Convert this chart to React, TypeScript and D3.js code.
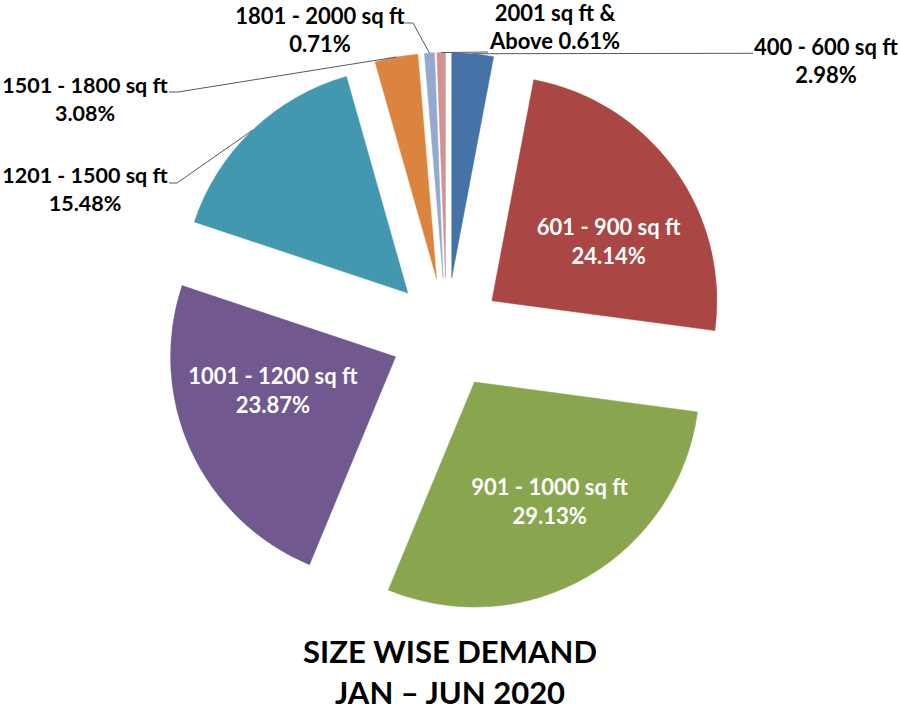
import React from "react";
import * as d3 from "d3";

// ---- data ----
const categories = [
  "400 - 600 sq ft",
  "601 - 900 sq ft",
  "901 - 1000 sq ft",
  "1001 - 1200 sq ft",
  "1201 - 1500 sq ft",
  "1501 - 1800 sq ft",
  "1801 - 2000 sq ft",
  "2001 sq ft & Above",
];
const shares = [2.98, 24.14, 29.13, 23.87, 15.48, 3.08, 0.71, 0.61];
const sliceColors = [
  "#4572A7",
  "#AA4643",
  "#89A54E",
  "#71588F",
  "#4198AF",
  "#DB843D",
  "#93A9CF",
  "#D19392",
];
const titleLines = ["SIZE WISE DEMAND", "JAN \u2013 JUN 2020"];

// label text lines (category, percent)
const labelText = (i: number) => {
  const pct = shares[i].toFixed(2) + "%";
  if (i === 7) return ["2001 sq ft &", "Above " + pct];
  return [categories[i], pct];
};

// ---- layout ----
const W = 900;
const H = 720;
const CX = 446.5;
const CY = 333.5;
const R = 225;
const EXPLODE = 56;
const FONT = "Lato, 'Open Sans', sans-serif";

// inside labels: index -> nudge from base position
const insideLabels: { i: number; dx: number; dy: number }[] = [
  { i: 1, dx: 11, dy: 18 },
  { i: 2, dx: 10, dy: 7 },
  { i: 3, dx: -4, dy: -20 },
];

// outside labels: text centre / first baseline and leader path bends
const outsideLabels: {
  i: number;
  tx: number;
  ty: number;
  bends: [number, number][];
}[] = [
  { i: 0, tx: 826, ty: 55, bends: [[753, 53.3]] },
  { i: 7, tx: 555, ty: 21, bends: [[488, 52]] },
  { i: 6, tx: 320, ty: 24, bends: [[413, 23], [405, 23]] },
  { i: 5, tx: 85, ty: 93, bends: [[178, 92], [169, 92]] },
  { i: 4, tx: 85, ty: 183, bends: [[177, 183], [169, 183]] },
];

const dir = (a: number): [number, number] => [Math.sin(a), -Math.cos(a)];

export default function App() {
  const pie = d3
    .pie<number>()
    .sort(null)
    .value((d) => d)
    .startAngle(0)
    .endAngle(2 * Math.PI);
  const arcs = pie(shares);
  const arcGen = d3.arc<d3.PieArcDatum<number>>().innerRadius(0).outerRadius(R);

  const apex = (k: number): [number, number] => {
    const a = arcs[k];
    const m = (a.startAngle + a.endAngle) / 2;
    const [ux, uy] = dir(m);
    return [CX + EXPLODE * ux, CY + EXPLODE * uy];
  };
  const outerMid = (k: number): [number, number] => {
    const a = arcs[k];
    const m = (a.startAngle + a.endAngle) / 2;
    const [ux, uy] = dir(m);
    const [px, py] = apex(k);
    return [px + R * ux, py + R * uy];
  };

  const line = d3.line();

  return (
    <svg
      width={W}
      height={H}
      style={{ position: "absolute", left: 0, top: 0, background: "#fff" }}
      fontFamily={FONT}
    >
      <rect width={W} height={H} fill="#fff" />
      {arcs.map((a, k) => {
        const [px, py] = apex(k);
        return (
          <path
            key={k}
            d={arcGen(a) || ""}
            transform={`translate(${px},${py})`}
            fill={sliceColors[k]}
            stroke={sliceColors[k]}
            strokeWidth={0.5}
          />
        );
      })}

      {outsideLabels.map((o) => {
        const pts: [number, number][] = [outerMid(o.i), ...o.bends];
        return (
          <path
            key={"l" + o.i}
            d={line(pts) || ""}
            fill="none"
            stroke="#595959"
            strokeWidth={1}
          />
        );
      })}

      {insideLabels.map((l) => {
        const a = arcs[l.i];
        const m = (a.startAngle + a.endAngle) / 2;
        const [ux, uy] = dir(m);
        const [px, py] = apex(l.i);
        const x = px + R * 0.58 * ux + l.dx;
        const y = py + R * 0.58 * uy + l.dy;
        const [t1, t2] = labelText(l.i);
        return (
          <text
            key={"in" + l.i}
            textAnchor="middle"
            fill="#fff"
            fontWeight={700}
            fontSize={22}
          >
            <tspan x={x} y={y - 7}>
              {t1}
            </tspan>
            <tspan x={x} y={y + 22}>
              {t2}
            </tspan>
          </text>
        );
      })}

      {outsideLabels.map((o) => {
        const [t1, t2] = labelText(o.i);
        return (
          <text
            key={"out" + o.i}
            textAnchor="middle"
            fill="#000"
            fontWeight={700}
            fontSize={o.tx < 100 ? 21.5 : 22}
          >
            <tspan x={o.tx} y={o.ty}>
              {t1}
            </tspan>
            <tspan x={o.tx} y={o.ty + 28}>
              {t2}
            </tspan>
          </text>
        );
      })}

      <text textAnchor="middle" fontWeight={700} fontSize={31} fill="#000">
        <tspan x={450} y={663}>
          {titleLines[0]}
        </tspan>
        <tspan x={450} y={704}>
          {titleLines[1]}
        </tspan>
      </text>
    </svg>
  );
}
